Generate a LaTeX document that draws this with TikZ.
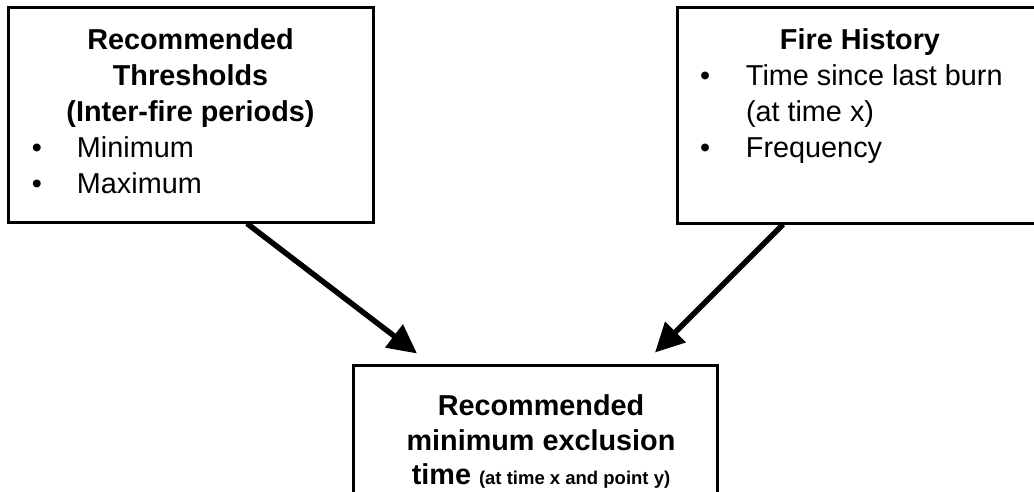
\documentclass[tikz,border=0pt]{standalone}
\usepackage{fontspec}
\setmainfont{Liberation Sans}
\usepackage{tikz}
\usetikzlibrary{positioning}
\usetikzlibrary{arrows.meta}

\newcommand{\boxfont}{\fontsize{28.8pt}{36pt}\selectfont}
\newcommand{\notefont}{\fontsize{18.5pt}{20pt}\selectfont}
\newcommand{\bulletline}[2]{\par\noindent\hangindent=69pt\hangafter=1%
	\makebox[69pt][l]{\hspace{#1}\textbullet}#2\par}

\tikzset{
	infobox/.style={draw, line width=3pt, inner sep=0pt},
	flowarrow/.style={line width=5.5pt, -{Triangle[length=29pt, width=28pt]}},
}

\begin{document}
\begin{tikzpicture}[x=1pt, y=-1pt]
	
	% ------------------------------------------------
	% Size of the graphic
	\path[use as bounding box, clip] (0,0) rectangle (1034,492);
	
	% ------------------------------------------------
	% Boxes
	\node[infobox] (thresh) at (190.5,115) {\begin{minipage}[c][214pt][t]{365pt}\boxfont
		\vspace*{21pt}
		{\centering\bfseries Recommended\\ Thresholds\\ (Inter-fire periods)\par}
		\bulletline{24pt}{Minimum}
		\bulletline{24pt}{Maximum}
	\end{minipage}};
	
	\node[infobox] (hist) at (860,115.5) {\begin{minipage}[c][215pt][t]{366pt}\boxfont
		\vspace*{21pt}
		{\centering\bfseries Fire History\par}
		\bulletline{23pt}{Time since last burn\\(at time x)}
		\bulletline{23pt}{Frequency}
	\end{minipage}};
	
	\node[infobox] (excl) at (535,460) {\begin{minipage}[c][190pt][t]{364pt}\fontsize{28.8pt}{34.5pt}\selectfont
		\vspace*{30pt}
		{\centering\leftskip=12pt plus 1fil\bfseries Recommended\\ minimum exclusion\\
			time {\notefont(at time x and point y)}\par}
	\end{minipage}};
	
	% ------------------------------------------------
	% Arrow ends
	\path (thresh.south) +(56.5,0) coordinate (threshout);
	\path (hist.south)   +(-77,0)  coordinate (histout);
	\path (excl.north)   +(-118,-10) coordinate (excltipL);
	\path (excl.north)   +(120,-11)  coordinate (excltipR);
	
	% ----------------
	% Arrows
	\draw[flowarrow] (threshout) -- (excltipL);
	\draw[flowarrow] (histout) -- (excltipR);
	
\end{tikzpicture}
\end{document}
